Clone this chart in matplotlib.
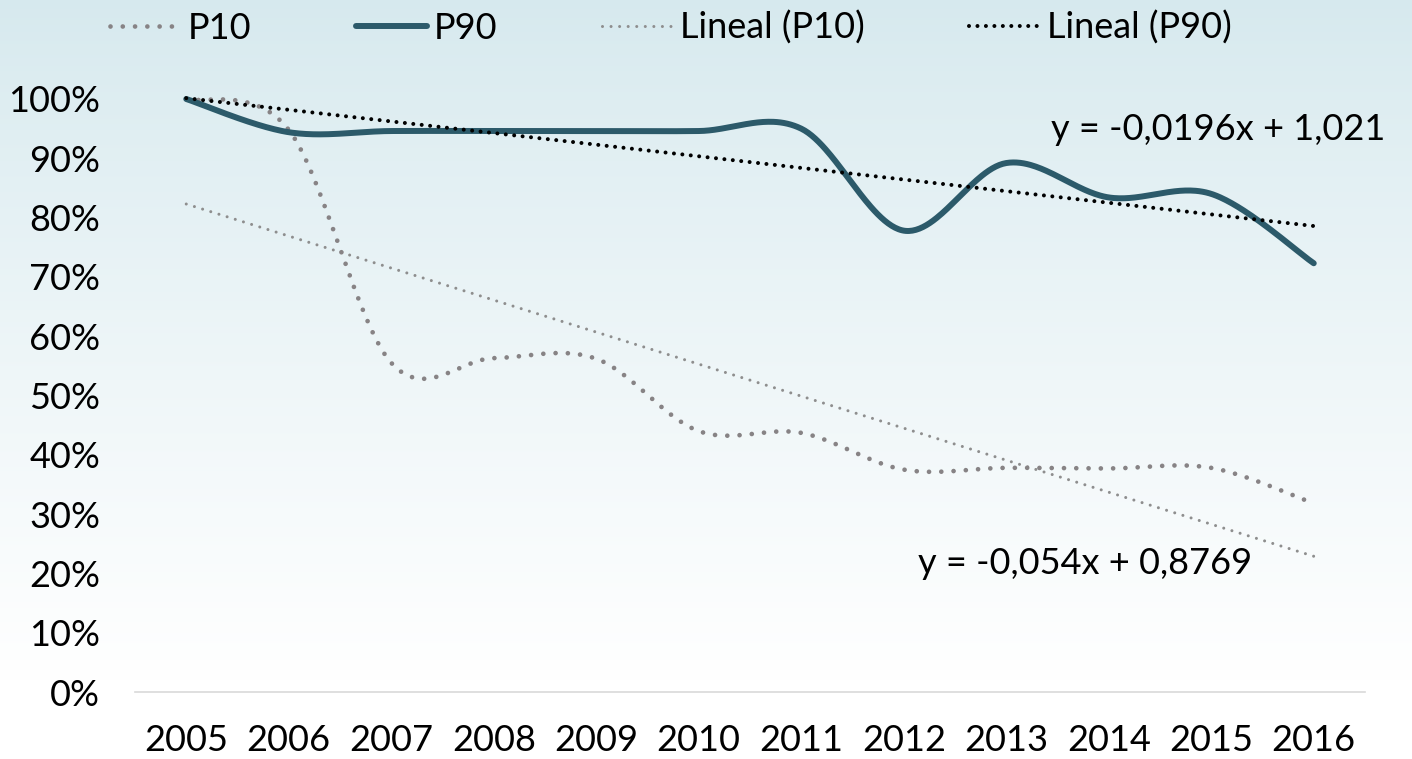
import numpy as np
import matplotlib
matplotlib.use("Agg")
import matplotlib.pyplot as plt
from matplotlib.lines import Line2D

# ---------------- data ----------------
years = ["2005", "2006", "2007", "2008", "2009", "2010",
         "2011", "2012", "2013", "2014", "2015", "2016"]
p10 = [1.000, 0.948, 0.555, 0.563, 0.562, 0.440, 0.437, 0.375, 0.378, 0.377, 0.378, 0.318]
p90 = [1.000, 0.944, 0.946, 0.946, 0.946, 0.946, 0.950, 0.778, 0.892, 0.834, 0.840, 0.723]
trend_p10 = [-0.054, 0.8769]     # slope, intercept (x = 1..12)
trend_p90 = [-0.0196, 1.021]
eq_p10 = "y = -0,054x + 0,8769"
eq_p90 = "y = -0,0196x + 1,021"
yticks = [0.0, 0.1, 0.2, 0.3, 0.4, 0.5, 0.6, 0.7, 0.8, 0.9, 1.0]
ytick_labels = ["0%", "10%", "20%", "30%", "40%", "50%", "60%", "70%", "80%", "90%", "100%"]
legend_labels = ["P10", "P90", "Lineal (P10)", "Lineal (P90)"]

# ---------------- style ----------------
FONT = ["Lato", "DejaVu Sans"]
plt.rcParams["font.family"] = FONT
FS = 26
C_P90 = "#2c5a6a"
C_P10 = "#878385"
C_T10 = "#8e8e8e"
C_T90 = "#000000"

W, H = 1412, 759
fig = plt.figure(figsize=(W / 100, H / 100), dpi=100)

# background gradient
bg = fig.add_axes([0, 0, 1, 1], zorder=-10)
rows = np.linspace(0, 1, 759)
top = np.array([214, 233, 238]) / 255.0
bot = np.array([255, 255, 255]) / 255.0
frac = np.clip(rows / (680 / 759), 0, 1) ** 0.85
grad = top[None, :] * (1 - frac[:, None]) + bot[None, :] * frac[:, None]
bg.imshow(grad[:, None, :], aspect="auto", extent=[0, 1, 0, 1], origin="upper",
          interpolation="bilinear")
bg.axis("off")

left, right, bottom, topp = 135 / W, 1365 / W, (H - 692) / H, (H - 99) / H
ax = fig.add_axes([left, bottom, right - left, topp - bottom])
ax.patch.set_alpha(0)


def smooth(xs, ys, n=60):
    pts = np.column_stack([xs, ys]).astype(float)
    m = len(pts)
    out = []
    for i in range(m - 1):
        p0 = pts[i - 1] if i > 0 else pts[i]
        p1 = pts[i]
        p2 = pts[i + 1]
        p3 = pts[i + 2] if i + 2 < m else pts[i + 1]
        c1 = p1 + (p2 - p0) / 6.0
        c2 = p2 - (p3 - p1) / 6.0
        t = np.linspace(0, 1, n)[:, None]
        seg = ((1 - t) ** 3) * p1 + 3 * ((1 - t) ** 2) * t * c1 + 3 * (1 - t) * t ** 2 * c2 + t ** 3 * p2
        if i > 0:
            seg = seg[1:]
        out.append(seg)
    out = np.vstack(out)
    return out[:, 0], out[:, 1]


x = np.arange(len(years))
xi = np.arange(1, len(years) + 1)

# trend lines
ty10 = trend_p10[0] * xi + trend_p10[1]
ty90 = trend_p90[0] * xi + trend_p90[1]
ax.plot(x, ty10, color=C_T10, lw=2.2, linestyle=(0, (0.001, 2.8)),
        dash_capstyle="round", clip_on=False, zorder=2)

sx, sy = smooth(x, p10)
ax.plot(sx, sy, color=C_P10, lw=3.4, linestyle=(0, (0.001, 2.6)),
        dash_capstyle="round", clip_on=False, zorder=3)
sx, sy = smooth(x, p90)
ax.plot(sx, sy, color=C_P90, lw=4.3, solid_capstyle="round",
        clip_on=False, zorder=4)
ax.plot(x, ty90, color=C_T90, lw=2.9, linestyle=(0, (0.001, 2.1)),
        dash_capstyle="round", clip_on=False, zorder=5)

ax.set_xlim(-0.5, len(years) - 0.5)
ax.set_ylim(0, 1.0)
ax.set_xticks(x)
ax.set_xticklabels(years, fontsize=FS)
ax.set_yticks(yticks)
ax.set_yticklabels(ytick_labels, fontsize=FS)
ax.tick_params(axis="both", length=0)
ax.tick_params(axis="y", pad=25)
ax.tick_params(axis="x", pad=23)
for s in ["top", "right", "left"]:
    ax.spines[s].set_visible(False)
ax.spines["bottom"].set_color("#d9d9d9")
ax.spines["bottom"].set_linewidth(1.2)

# equations
fig.text(1385 / W, 1 - 130 / H, eq_p90, ha="right", va="center", fontsize=FS)
fig.text(918 / W, 1 - 563 / H, eq_p10, ha="left", va="center", fontsize=FS)

# legend
handles = [
    Line2D([], [], color=C_P10, lw=3.4, linestyle=(0, (0.001, 2.6)), dash_capstyle="round"),
    Line2D([], [], color=C_P90, lw=4.3, solid_capstyle="round"),
    Line2D([], [], color=C_T10, lw=2.2, linestyle=(0, (0.001, 2.8)), dash_capstyle="round"),
    Line2D([], [], color=C_T90, lw=2.9, linestyle=(0, (0.001, 2.1)), dash_capstyle="round"),
]
fig.legend(handles, legend_labels, loc="center", bbox_to_anchor=(671 / W, 1 - 28 / H),
           ncol=4, frameon=False, fontsize=FS, handlelength=1.95, handletextpad=0.2,
           columnspacing=2.9, borderaxespad=0, borderpad=0)

fig.savefig("out.png", dpi=100)
